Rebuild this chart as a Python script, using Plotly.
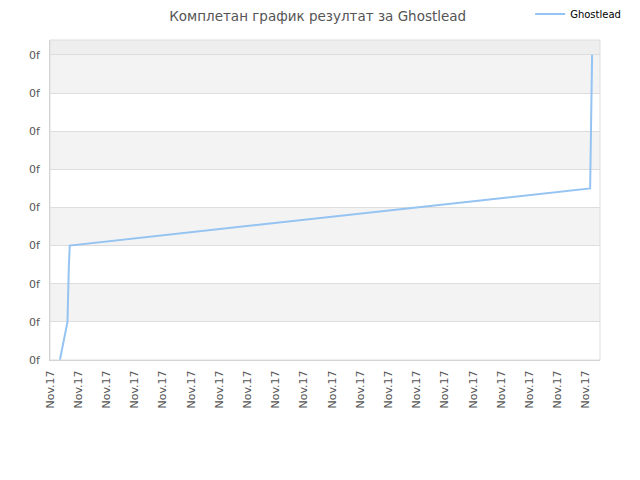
import plotly.graph_objects as go

# Score history for Ghostlead
x_vals = [0.35, 0.62, 0.67, 0.70, 19.15, 19.17, 19.20, 19.22]
y_vals = [0, 1, 2.5, 3, 4.5, 5.4, 7.2, 8]

# Axis labels
x_ticks = list(range(20))
x_labels = ["Nov.17"] * 20
y_ticks = list(range(9))
y_labels = ["0f"] * 9

title = "Комплетан график резултат за Ghostlead"
y_top = 8.39

fig = go.Figure()
fig.add_trace(go.Scatter(
    x=x_vals, y=y_vals, mode="lines", name="Ghostlead",
    line=dict(color="#95c3f2", width=2),
))

# Alternating bands behind the plot
shapes = []
for lo in y_ticks[:-1]:
    if lo % 2 == 1:
        shapes.append(dict(type="rect", xref="paper", yref="y", x0=0, x1=1,
                           y0=lo, y1=lo + 1, fillcolor="#f3f3f3",
                           line_width=0, layer="below"))
shapes.append(dict(type="rect", xref="paper", yref="y", x0=0, x1=1,
                   y0=y_ticks[-1], y1=y_top, fillcolor="#eeeeee",
                   line_width=0, layer="below"))
shapes.append(dict(type="rect", xref="paper", yref="paper", x0=0, x1=1,
                   y0=0, y1=1, line=dict(color="#dddddd", width=1)))

# page has an 8px body margin, so the figure is a bit smaller
fig.update_layout(
    width=632, height=472,
    margin=dict(l=42, r=40, t=32, b=120, autoexpand=False),
    paper_bgcolor="white", plot_bgcolor="white",
    font=dict(family="DejaVu Sans", size=11, color="#555555"),
    title=dict(text=title, x=0.49, xanchor="center", y=0.982, yanchor="middle",
               font=dict(size=13.5, color="#555555")),
    showlegend=True,
    legend=dict(x=0.873, y=1.081, xanchor="left", yanchor="middle",
                font=dict(size=10, color="#000000"), itemwidth=30,
                bgcolor="rgba(0,0,0,0)"),
    shapes=shapes,
)
fig.update_xaxes(range=[0, 19.5], tickvals=x_ticks, ticktext=x_labels,
                 tickangle=-90, showgrid=False, zeroline=False,
                 showline=True, linecolor="#cccccc", ticks="", automargin=False,
                 ticklabelstandoff=5)
fig.update_yaxes(range=[0, y_top], tickvals=y_ticks, ticktext=y_labels,
                 showgrid=True, gridcolor="#dddddd", zeroline=False,
                 showline=True, linecolor="#cccccc", ticks="", automargin=False,
                 ticklabelstandoff=7)

fig.write_html("out.html")
